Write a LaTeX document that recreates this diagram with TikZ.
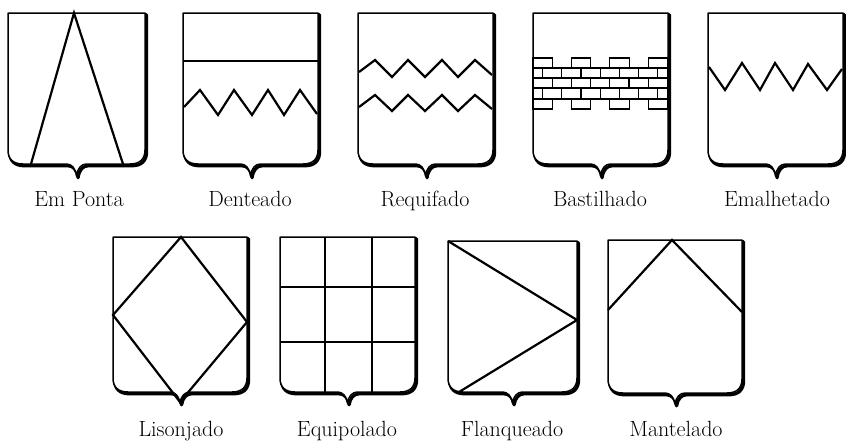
\documentclass[tikz,border=0pt]{standalone}
\usepackage{fontspec}
\begin{document}
\begin{tikzpicture}[x=1pt,y=-1pt,
  shadowline/.style={draw=black,line width=3.2pt,line join=round},
  shieldline/.style={draw=black,fill=white,line width=1.5pt,line join=round},
  partline/.style={draw=black,line width=2.2pt,line join=miter},
  brick/.style={draw=black,fill=white,line width=1.3pt},
  lbl/.style={anchor=base,inner sep=0pt,font=\fontsize{22}{26}\selectfont}]
\useasboundingbox[fill=white] (0,0) rectangle (846,447);
\newcommand\escudo[5]{%
 \pgfmathsetmacro\eC{(#1+#2)/2}%
 \begin{scope}[shift={(1.6,1.8)}]
 \draw[shadowline] (#1,#3) -- (#2,#3) -- (#2,{#4-14}) .. controls (#2,{#4-5}) and ({#2-5},#4) .. ({#2-15},#4) -- ({\eC+10},#4) .. controls ({\eC+5},#4) and ({\eC+1},{#4+4}) .. (\eC,#5) .. controls ({\eC-1},{#4+4}) and ({\eC-5},#4) .. ({\eC-10},#4) -- ({#1+15},#4) .. controls ({#1+5},#4) and (#1,{#4-5}) .. (#1,{#4-14}) -- cycle;
 \end{scope}
 \filldraw[shieldline] (#1,#3) -- (#2,#3) -- (#2,{#4-14}) .. controls (#2,{#4-5}) and ({#2-5},#4) .. ({#2-15},#4) -- ({\eC+10},#4) .. controls ({\eC+5},#4) and ({\eC+1},{#4+4}) .. (\eC,#5) .. controls ({\eC-1},{#4+4}) and ({\eC-5},#4) .. ({\eC-10},#4) -- ({#1+15},#4) .. controls ({#1+5},#4) and (#1,{#4-5}) .. (#1,{#4-14}) -- cycle;
}
% ---------- top row ----------
% Em Ponta
\escudo{8}{145}{13}{164}{176}
\draw[partline] (31,164) -- (74,13) -- (123,164);
\node[lbl] (l1) at (79,206) {Em Ponta};
% Denteado
\escudo{183}{318}{13}{164}{176}
\draw[partline] (183,61) -- (318,61);
\draw[partline] (184,107) -- (200,90) -- (218,115) -- (234,90) -- (252,115) -- (268,90) -- (284,115) -- (300,90) -- (317,114);
\node[lbl] (l2) at (250,206) {Denteado};
% Requifado
\escudo{358}{493}{13}{164}{176}
\draw[partline] (359,72) -- (375,60) -- (392,77) -- (408,60) -- (425,77) -- (442,60) -- (458,77) -- (475,60) -- (492,75);
\draw[partline] (359,107) -- (375,95) -- (392,111) -- (408,95) -- (425,111) -- (442,95) -- (458,111) -- (475,95) -- (492,109);
\node[lbl] (l3) at (425,206) {Requifado};
% Bastilhado
\escudo{533}{668}{13}{164}{176}
\foreach \k in {0,...,3} {
  \draw[brick] ({533+38.4*\k},58) rectangle ({552.4+38.4*\k},68);
  \draw[brick] ({533+38.4*\k},99) rectangle ({552.4+38.4*\k},109);
}
\draw[brick] (533,68) rectangle (668,99);
\draw[brick] (533,78) -- (668,78) (533,88) -- (668,88);
\foreach \j in {0,...,6} {
  \draw[brick] ({542.6+19.2*\j},68) -- ({542.6+19.2*\j},78) ({542.6+19.2*\j},88) -- ({542.6+19.2*\j},99);
}
\foreach \j in {1,...,6} {
  \draw[brick] ({533+19.2*\j},78) -- ({533+19.2*\j},88);
}
\node[lbl] (l4) at (600,206) {Bastilhado};
% Emalhetado
\escudo{708}{843}{13}{164}{176}
\draw[partline] (709,67) -- (725,90) -- (742,63) -- (760,90) -- (775,63) -- (793,90) -- (808,64) -- (827,90) -- (842,69);
\node[lbl] (l5) at (777,206) {Emalhetado};
% ---------- bottom row ----------
% Lisonjado
\escudo{113}{247}{237}{392}{403}
\draw[partline] (181,237) -- (247,322) -- (180,402) -- (113,315) -- cycle;
\node[lbl] (l6) at (181,436) {Lisonjado};
% Equipolado
\escudo{280}{415}{237}{392}{403}
\draw[partline] (325,237) -- (325,392) (372,237) -- (372,392) (280,287) -- (415,287) (280,342) -- (415,342);
\node[lbl] (l7) at (347,436) {Equipolado};
% Flanqueado
\escudo{448}{577}{241}{392}{403}
\draw[partline] (448,241) -- (577,320) -- (459,392);
\node[lbl] (l8) at (512,436) {Flanqueado};
% Mantelado
\escudo{608}{742}{240}{393}{404}
\draw[partline] (608,310) -- (672,240) -- (742,312);
\node[lbl] (l9) at (676,436) {Mantelado};
\end{tikzpicture}
\end{document}
